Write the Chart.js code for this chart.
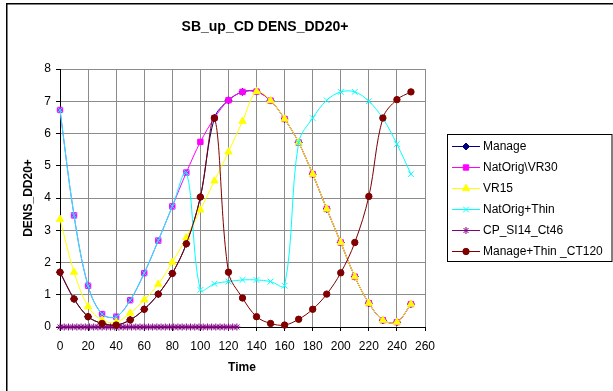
<!DOCTYPE html>
<html>
<head>
<meta charset="utf-8">
<script src="https://cdn.jsdelivr.net/npm/chart.js@4/dist/chart.umd.min.js"></script>
<style>
  html, body { margin: 0; padding: 0; background: #fff; }
  canvas { display: block; }
</style>
</head>
<body>
<canvas id="c" width="613" height="391"></canvas>
<script>
// ---- Data ----
const chartTitle = "SB_up_CD DENS_DD20+";
const xTitle = "Time";
const yTitle = "DENS_DD20+";
const seriesNames = ["Manage", "NatOrig\\VR30", "VR15", "NatOrig+Thin", "CP_SI14_Ct46", "Manage+Thin _CT120"];

const time = [0,10,20,30,40,50,60,70,80,90,100,110,120,130,140,150,160,170,180,190,200,210,220,230,240,250];

const manage      = [1.70,0.87,0.32,0.11,0.06,0.22,0.55,1.02,1.66,2.58,4.03,6.48,7.03,7.29,7.30,7.02,6.45,5.72,4.74,3.66,2.62,1.56,0.74,0.21,0.15,0.71];
const natOrigVR30 = [6.73,3.46,1.28,0.40,0.32,0.83,1.67,2.68,3.74,4.79,5.74,6.48,7.03,7.29,7.30,7.02,6.45,5.72,4.74,3.66,2.62,1.56,0.74,0.21,0.15,0.71];
const vr15        = [3.34,1.70,0.63,0.21,0.15,0.43,0.84,1.33,2.01,2.77,3.63,4.53,5.43,6.38,7.30,7.02,6.45,5.72,4.74,3.66,2.62,1.56,0.74,0.21,0.15,0.71];
const natOrigThin = [6.73,3.46,1.28,0.40,0.32,0.83,1.67,2.68,3.74,4.79,1.15,1.34,1.41,1.46,1.46,1.41,1.28,5.72,6.48,7.03,7.29,7.29,7.00,6.47,5.67,4.74];
const manageThin  = [1.70,0.87,0.32,0.11,0.06,0.22,0.55,1.02,1.66,2.58,4.03,6.48,1.70,0.90,0.32,0.11,0.06,0.24,0.55,1.02,1.68,2.62,4.05,6.48,7.05,7.29];

const cpTime   = [0,3,6,9,12,15,18,21,24,27,30,33,36,39,42,45,48,51,54,57,60,63,66,69,72,75,78,81,84,87,90,93,96,99,102,105,108,111,114,117,120,123,126];
const cpValues = [0,0,0,0,0,0,0,0,0,0,0,0,0,0,0,0,0,0,0,0,0,0,0,0,0,0,0,0,0,0,0,0,0,0,0,0,0,0,0,0,0,0,0];

const xTicks = { min: 0, max: 260, step: 20 };
const yTicks = { min: 0, max: 8, step: 1 };

// ---- Build chart ----
const FONT = "'Liberation Sans', Arial, sans-serif";
function pts(xs, ys) { return xs.map((x, i) => ({ x: x, y: ys[i] })); }

const styles = [
  { color: '#000080', point: 'rectRot',  radius: 3.5 },
  { color: '#FF00FF', point: 'rect',     radius: 3.8 },
  { color: '#FFFF00', point: 'triangle', radius: 4.2 },
  { color: '#00FFFF', point: 'crossRot', radius: 4 },
  { color: '#800080', point: 'star',     radius: 3.5 },
  { color: '#800000', point: 'circle',   radius: 3.2 }
];
const seriesData = [
  pts(time, manage), pts(time, natOrigVR30), pts(time, vr15),
  pts(time, natOrigThin), pts(cpTime, cpValues), pts(time, manageThin)
];

const datasets = seriesData.map((d, i) => ({
  label: seriesNames[i],
  data: d,
  showLine: true,
  borderColor: styles[i].color,
  backgroundColor: styles[i].color,
  pointBackgroundColor: styles[i].color,
  pointBorderColor: styles[i].color,
  pointStyle: styles[i].point,
  pointRadius: styles[i].radius,
  pointBorderWidth: 1,
  borderWidth: 1,
  tension: 0.35,
  clip: false,
  order: seriesNames.length - i
}));

const decor = {
  id: 'decor',
  beforeDraw(chart) {
    const ctx = chart.ctx;
    ctx.save();
    ctx.fillStyle = '#fff';
    ctx.fillRect(0, 0, chart.width, chart.height);
    ctx.restore();
  },
  afterDraw(chart) {
    const ctx = chart.ctx;
    ctx.save();
    // outer frame
    ctx.strokeStyle = '#000';
    ctx.lineWidth = 1.5;
    ctx.beginPath();
    ctx.moveTo(6.75, 400); ctx.lineTo(6.75, 3.75); ctx.lineTo(620, 3.75);
    ctx.stroke();

    ctx.fillStyle = '#000';
    // title
    ctx.font = 'bold 14px ' + FONT;
    ctx.textAlign = 'center';
    ctx.textBaseline = 'middle';
    ctx.fillText(chartTitle, 265, 27);
    // x title
    ctx.font = 'bold 12px ' + FONT;
    ctx.fillText(xTitle, 242, 368);
    // y title
    ctx.save();
    ctx.translate(29, 198);
    ctx.rotate(-Math.PI / 2);
    ctx.fillText(yTitle, 0, 0);
    ctx.restore();

    // legend
    const lx = 447.5, ly = 134.5, lw = 164.5, lh = 127;
    ctx.strokeStyle = '#000';
    ctx.lineWidth = 1;
    ctx.strokeRect(lx, ly, lw, lh);
    ctx.font = '12px ' + FONT;
    ctx.textAlign = 'left';
    ctx.textBaseline = 'middle';
    chart.data.datasets.forEach((ds, i) => {
      const y = 146 + i * 21;
      ctx.strokeStyle = ds.borderColor;
      ctx.lineWidth = 1;
      ctx.beginPath();
      ctx.moveTo(452, y + 0.5); ctx.lineTo(480, y + 0.5);
      ctx.stroke();
      ctx.fillStyle = ds.pointBackgroundColor;
      ctx.strokeStyle = ds.pointBorderColor;
      Chart.helpers.drawPoint(ctx, {
        pointStyle: ds.pointStyle, radius: ds.pointRadius, rotation: 0, borderWidth: 1
      }, 466, y + 0.5);
      ctx.fillStyle = '#000';
      ctx.fillText(ds.label, 483, y + 1);
    });
    ctx.restore();
  }
};

new Chart(document.getElementById('c'), {
  type: 'scatter',
  data: { datasets: datasets },
  options: {
    responsive: false,
    devicePixelRatio: 1,
    animation: false,
    events: [],
    layout: { padding: { left: 0, top: 69, right: 188, bottom: 0 } },
    plugins: { legend: { display: false }, title: { display: false }, tooltip: { enabled: false } },
    scales: {
      x: {
        type: 'linear',
        min: xTicks.min, max: xTicks.max,
        ticks: { stepSize: xTicks.step, color: '#000', font: { family: FONT, size: 12 }, padding: 8, maxRotation: 0 },
        grid: { color: '#8c8c8c', tickLength: 4, tickColor: '#000', drawTicks: true },
        border: { color: '#000', width: 1 },
        afterFit(scale) { scale.height = 64; }
      },
      y: {
        type: 'linear',
        min: yTicks.min, max: yTicks.max,
        ticks: { stepSize: yTicks.step, color: '#000', font: { family: FONT, size: 12 }, padding: 5 },
        grid: { color: '#8c8c8c', tickLength: 4, tickColor: '#000', drawTicks: true },
        border: { color: '#000', width: 1 },
        afterFit(scale) { scale.width = 60; }
      }
    }
  },
  plugins: [decor]
});
</script>
</body>
</html>
